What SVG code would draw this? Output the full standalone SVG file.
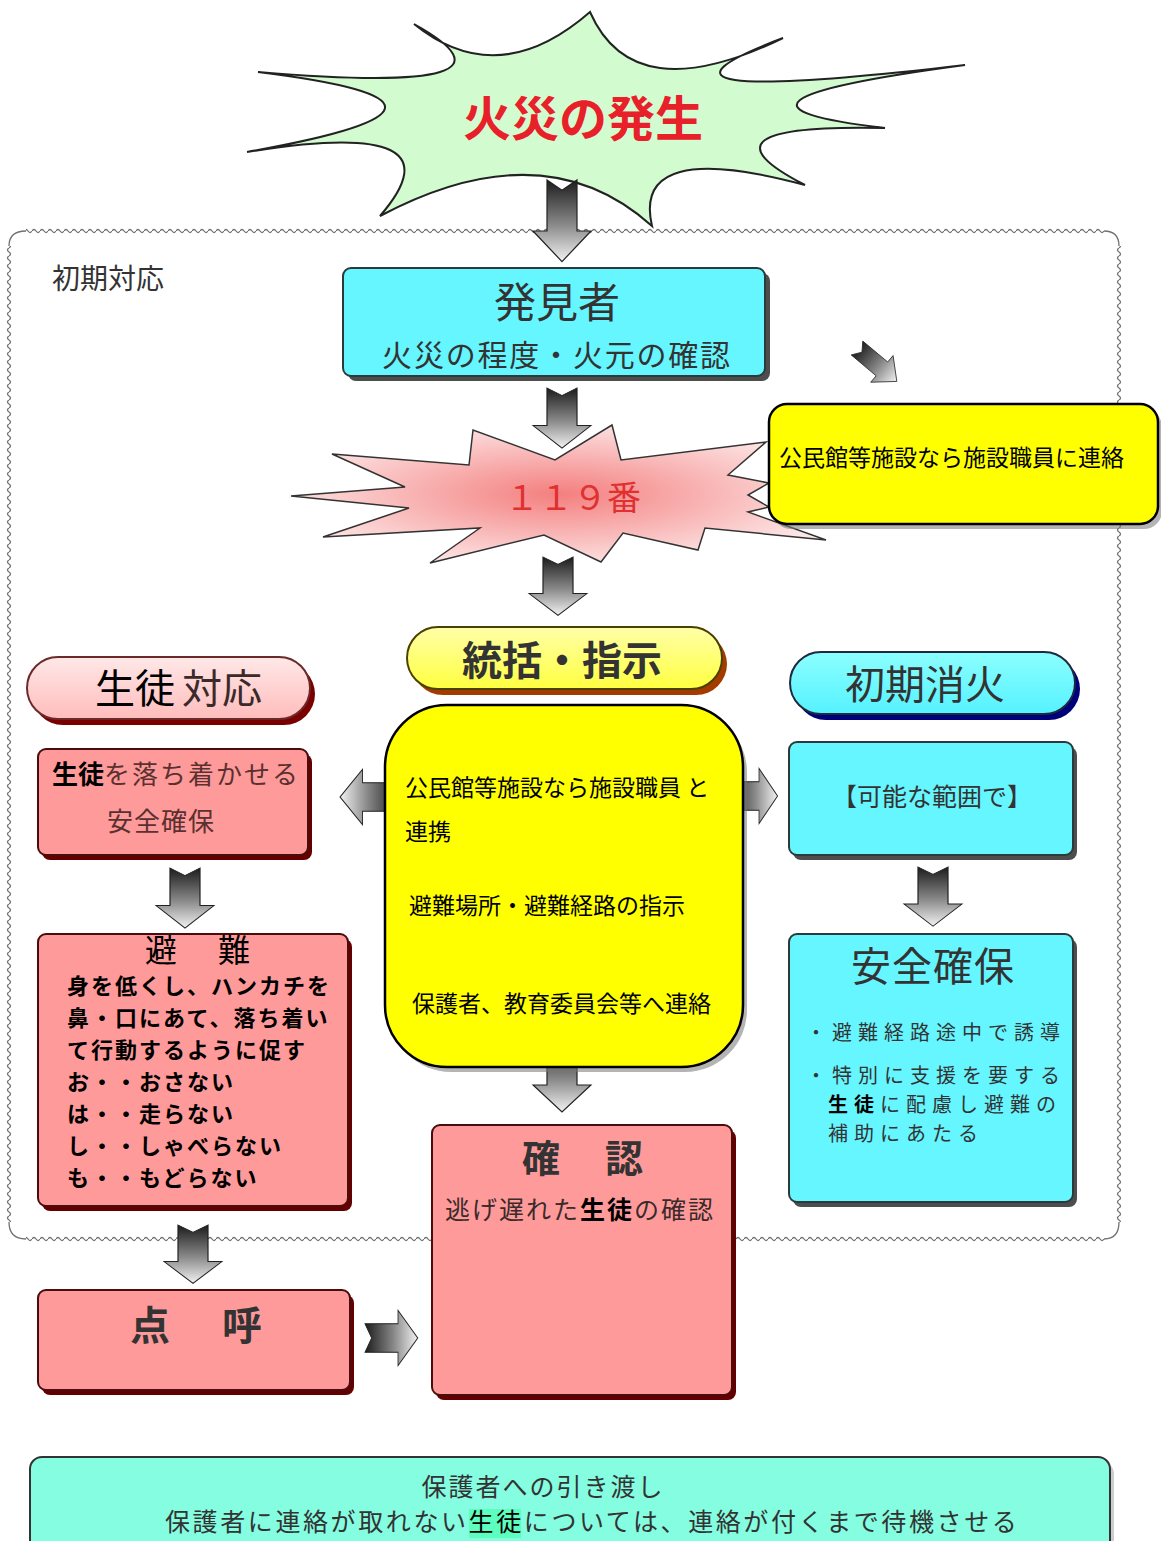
<svg xmlns="http://www.w3.org/2000/svg" width="1161" height="1541" viewBox="0 0 1161 1541">
<style>
text{font-family:"Noto Sans CJK JP","Noto Sans CJK SC",sans-serif}
.cyan{fill:#66f6ff;stroke:#2b3a3a;stroke-width:2}
.cyanSh{fill:#4d4d4d}
.pink{fill:#ff9a9a;stroke:#4a0c0c;stroke-width:2}
.pinkSh{fill:#650000}
.yel{fill:#ffff00;stroke:#000;stroke-width:2.5}
.yelSh{fill:#777;opacity:.55}
.arr{fill:url(#ag);stroke:#222;stroke-width:1.2}
.dk{fill:#333}
.bk{fill:#000}
.wl{fill:none;stroke:#707070;stroke-width:1.3}
</style>
<defs>
<linearGradient id="ag" x1="0" y1="0" x2="0" y2="1">
<stop offset="0" stop-color="#1c1c1c"/>
<stop offset="0.55" stop-color="#8a8a8a"/>
<stop offset="1" stop-color="#f2f2f2"/>
</linearGradient>
<radialGradient id="burst" cx="0.5" cy="0.5" r="0.55">
<stop offset="0" stop-color="#f47f7f"/>
<stop offset="1" stop-color="#fde8e8"/>
</radialGradient>
<linearGradient id="gPinkPill" x1="0" y1="0" x2="0" y2="1">
<stop offset="0" stop-color="#ffe8e8"/>
<stop offset="1" stop-color="#ffbcbc"/>
</linearGradient>
<linearGradient id="gYelPill" x1="0" y1="0" x2="0" y2="1">
<stop offset="0" stop-color="#ffffa8"/>
<stop offset="1" stop-color="#ffff40"/>
</linearGradient>
<linearGradient id="gCyanPill" x1="0" y1="0" x2="0" y2="1">
<stop offset="0" stop-color="#8cffff"/>
<stop offset="1" stop-color="#55f2ff"/>
</linearGradient>
<pattern id="wh" width="8" height="6" patternUnits="userSpaceOnUse"><path d="M0,3 Q2,0 4,3 T8,3" fill="none" stroke="#707070" stroke-width="1.3"/></pattern>
<pattern id="wv" width="6" height="8" patternUnits="userSpaceOnUse"><path d="M3,0 Q0,2 3,4 T3,8" fill="none" stroke="#707070" stroke-width="1.3"/></pattern>
<path id="arrow" d="M-15,0 L0,10 L15,0 L15,50 L29,50 L0,80 L-29,50 L-15,50 Z"/>
</defs>

<rect width="1161" height="1541" fill="#fff"/>

<g id="frame">
<rect x="26" y="228" width="1078" height="6" fill="url(#wh)"/>
<rect x="26" y="1236" width="1078" height="6" fill="url(#wh)"/>
<rect x="6" y="246" width="6" height="976" fill="url(#wv)"/>
<rect x="1116" y="246" width="6" height="976" fill="url(#wv)"/>
<path class="wl" d="M9,246 Q9,231 26,231"/>
<path class="wl" d="M1104,231 Q1119,231 1119,246"/>
<path class="wl" d="M9,1222 Q9,1239 26,1239"/>
<path class="wl" d="M1104,1239 Q1119,1239 1119,1222"/>
<text x="52" y="289" font-size="28" fill="#333">初期対応</text>
</g>

<g id="fire">
<path d="M590,12 Q633.5,111 783,38 Q596,108.5 965,65 Q675,103.5 885,128 Q685,123.5 805,185 Q631.5,138.5 652,226 Q544,129 380,216 Q466.5,116 247,152 Q517.5,104 258,72 Q544,96 414,24 Q498,92 590,12 Z" fill="#d3fbd0" stroke="#222" stroke-width="2"/>
<text x="583" y="136" font-size="48" font-weight="bold" fill="#e8202a" text-anchor="middle">火災の発生</text>
</g>

<g id="call119">
<polygon points="291,496 405,487 332,454 469,465 473,430 555,460 612,425 621,460 766,442 728,475 769,483 748,495 769,507 748,512 826,540 705,528 698,550 623,533 601,562 544,535 430,563 480,528 323,537 409,508" fill="url(#burst)" stroke="#333" stroke-width="1.5"/>
<text x="573" y="510" font-size="34" fill="#e03030" text-anchor="middle">１１９番</text>
</g>

<g id="connectors">
<use href="#arrow" class="arr" transform="translate(562,180) scale(1,1.02)"/>
<use href="#arrow" class="arr" transform="translate(562,388) scale(1,0.75)"/>
<use href="#arrow" class="arr" transform="translate(558,557) scale(1,0.73)"/>
<use href="#arrow" class="arr" transform="translate(857,348) rotate(-50) scale(0.6,0.65)"/>
<use href="#arrow" class="arr" transform="translate(400,797) rotate(90) scale(0.95,0.75)"/>
<use href="#arrow" class="arr" transform="translate(728,796) rotate(-90) scale(0.95,0.62)"/>
<use href="#arrow" class="arr" transform="translate(185,868) scale(1,0.75)"/>
<use href="#arrow" class="arr" transform="translate(933,867) scale(1,0.74)"/>
<use href="#arrow" class="arr" transform="translate(562,1040) scale(1,0.9)"/>
<use href="#arrow" class="arr" transform="translate(193,1225) scale(1,0.73)"/>
<use href="#arrow" class="arr" transform="translate(365,1338) rotate(-90) scale(0.95,0.66)"/>
</g>

<g id="finder">
<rect class="cyanSh" x="348" y="273" width="422" height="108" rx="8"/>
<rect class="cyan" x="343" y="268" width="422" height="108" rx="8"/>
<text x="557" y="318" font-size="42" class="dk" text-anchor="middle">発見者</text>
<text x="557" y="366" font-size="30" class="dk" text-anchor="middle" letter-spacing="1.8">火災の程度・火元の確認</text>
</g>

<g id="facility-contact">
<rect class="yelSh" x="773" y="409" width="389" height="120" rx="18"/>
<rect class="yel" x="769" y="404" width="389" height="120" rx="18"/>
<text x="779" y="466" font-size="23" class="bk">公民館等施設なら施設職員に連絡</text>
</g>

<g id="command">
<rect x="412" y="633" width="315" height="62" rx="31" fill="#a33a00"/>
<rect x="407" y="627" width="315" height="62" rx="31" fill="url(#gYelPill)" stroke="#4a4000" stroke-width="2"/>
<text x="562" y="675" font-size="40" font-weight="bold" class="dk" text-anchor="middle">統括・指示</text>
</g>

<g id="student-head">
<rect x="32" y="663" width="283" height="62" rx="31" fill="#7a0000"/>
<rect x="27" y="657" width="283" height="62" rx="31" fill="url(#gPinkPill)" stroke="#6b2a2a" stroke-width="2"/>
<text x="95" y="703" font-size="40"><tspan fill="#000">生徒</tspan><tspan dx="7" fill="#3a2a2a">対応</tspan></text>
</g>

<g id="firefight-head">
<rect x="795" y="658" width="285" height="62" rx="31" fill="#00007a"/>
<rect x="790" y="652" width="285" height="62" rx="31" fill="url(#gCyanPill)" stroke="#1d2a40" stroke-width="2"/>
<text x="925" y="699" font-size="40" class="dk" text-anchor="middle">初期消火</text>
</g>

<g id="calm">
<rect class="pinkSh" x="42" y="754" width="270" height="106" rx="8"/>
<rect class="pink" x="38" y="749" width="270" height="106" rx="8"/>
<text x="52" y="784" font-size="26" letter-spacing="2"><tspan font-weight="bold" fill="#000" letter-spacing="0">生徒</tspan><tspan fill="#5a3030">を落ち着かせる</tspan></text>
<text x="107" y="831" font-size="26" fill="#5a3030" letter-spacing="1">安全確保</text>
</g>

<g id="evacuate">
<rect class="pinkSh" x="42" y="939" width="310" height="272" rx="8"/>
<rect class="pink" x="38" y="934" width="310" height="272" rx="8"/>
<text x="145" y="962" font-size="32" class="bk">避</text>
<text x="218" y="962" font-size="32" class="bk">難</text>
<g font-size="22" font-weight="bold" fill="#000" letter-spacing="2">
<text x="67" y="994">身を低くし、ハンカチを</text>
<text x="67" y="1026">鼻・口にあて、落ち着い</text>
<text x="67" y="1058">て行動するように促す</text>
<text x="67" y="1090">お・・おさない</text>
<text x="67" y="1122">は・・走らない</text>
<text x="67" y="1154">し・・しゃべらない</text>
<text x="67" y="1186">も・・もどらない</text>
</g>
</g>

<g id="rollcall">
<rect class="pinkSh" x="42" y="1295" width="312" height="100" rx="8"/>
<rect class="pink" x="38" y="1290" width="312" height="100" rx="8"/>
<text x="130" y="1340" font-size="40" font-weight="bold" class="dk">点</text>
<text x="222" y="1340" font-size="40" font-weight="bold" class="dk">呼</text>
</g>

<g id="instructions">
<rect class="yelSh" x="389" y="710" width="358" height="362" rx="62"/>
<rect class="yel" x="385" y="705" width="358" height="362" rx="62"/>
<g font-size="23" fill="#000">
<text x="405" y="796">公民館等施設なら施設職員 と</text>
<text x="405" y="840">連携</text>
<text x="409" y="914">避難場所・避難経路の指示</text>
<text x="412" y="1012">保護者、教育委員会等へ連絡</text>
</g>
</g>

<g id="possible">
<rect class="cyanSh" x="793" y="747" width="284" height="113" rx="8"/>
<rect class="cyan" x="789" y="742" width="284" height="113" rx="8"/>
<text x="932" y="806" font-size="25" class="dk" text-anchor="middle">【可能な範囲で】</text>
</g>

<g id="safety">
<rect class="cyanSh" x="793" y="939" width="284" height="268" rx="8"/>
<rect class="cyan" x="789" y="934" width="284" height="268" rx="8"/>
<text x="933" y="981" font-size="40" class="dk" text-anchor="middle" letter-spacing="1">安全確保</text>
<g font-size="20" letter-spacing="6" fill="#333">
<text x="806" y="1040">・避難経路途中で誘導</text>
<text x="806" y="1083">・特別に支援を要する</text>
<text x="828" y="1112"><tspan fill="#000" font-weight="bold">生徒</tspan>に配慮し避難の</text>
<text x="828" y="1141">補助にあたる</text>
</g>
</g>

<g id="confirm">
<rect class="pinkSh" x="436" y="1130" width="300" height="270" rx="8"/>
<rect class="pink" x="432" y="1125" width="300" height="270" rx="8"/>
<text x="522" y="1172" font-size="38" font-weight="bold" class="dk">確</text>
<text x="605" y="1172" font-size="38" font-weight="bold" class="dk">認</text>
<text x="445" y="1219" font-size="25" letter-spacing="2" fill="#3a2a2a">逃げ遅れた<tspan fill="#000" font-weight="bold">生徒</tspan>の確認</text>
</g>

<g id="handover">
<rect x="34" y="1462" width="1080" height="110" rx="12" fill="#9a9a9a" opacity="0.5"/>
<rect x="30" y="1457" width="1080" height="110" rx="12" fill="#84fde0" stroke="#333" stroke-width="2"/>
<rect x="469" y="1509" width="52" height="29" fill="#5cffbe"/>
<text x="543" y="1496" font-size="25" letter-spacing="2" class="dk" text-anchor="middle">保護者への引き渡し</text>
<text x="165" y="1531" font-size="25" letter-spacing="2.6" class="dk">保護者に連絡が取れない<tspan fill="#000">生徒</tspan>については、連絡が付くまで待機させる</text>
</g>
</svg>
